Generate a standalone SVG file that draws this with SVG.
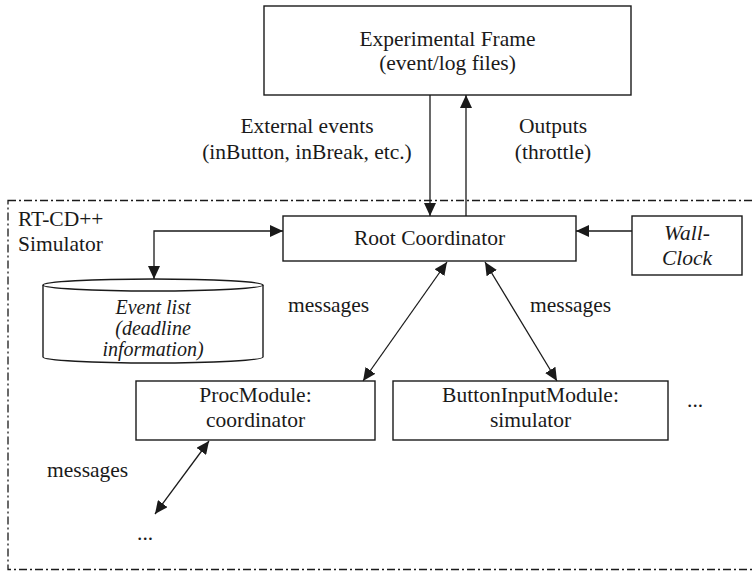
<svg xmlns="http://www.w3.org/2000/svg" width="752" height="575" viewBox="0 0 752 575" font-family="'Liberation Serif', 'DejaVu Serif', serif">
  <style>
    text { font-family: "Liberation Serif", "DejaVu Serif", serif; font-size: 21.5px; fill: #1a1a1a; }
    .c { text-anchor: middle; }
    .i { font-style: italic; }
    .s { font-size: 20px; }
    .box { fill: #fff; stroke: #1a1a1a; stroke-width: 1.4; }
    .ln { fill: none; stroke: #1a1a1a; stroke-width: 1.3; }
    .bound { fill: none; stroke: #1a1a1a; stroke-width: 1.3; stroke-dasharray: 8 3 2 3; }
  </style>
  <defs>
    <marker id="ah" markerUnits="userSpaceOnUse" markerWidth="14" markerHeight="12" refX="13" refY="6" orient="auto-start-reverse">
      <path d="M0,0 L13,6 L0,12 z" fill="#1a1a1a"/>
    </marker>
  </defs>

  <rect width="752" height="575" fill="#fff"/>

  <!-- simulator boundary -->
  <g id="simulator-boundary">
    <rect class="bound" x="8" y="200.5" width="745" height="369"/>
    <text x="18" y="226">RT-CD++</text>
    <text x="18" y="251">Simulator</text>
  </g>

  <g id="experimental-frame">
    <rect class="box" x="264" y="6" width="367" height="89"/>
    <text class="c" x="447.5" y="46">Experimental Frame</text>
    <text class="c" x="447.5" y="70">(event/log files)</text>
  </g>

  <g id="root-coordinator">
    <rect class="box" x="283" y="216" width="293" height="45"/>
    <text class="c" x="429.5" y="245">Root Coordinator</text>
  </g>

  <g id="wall-clock">
    <rect class="box" x="632" y="216" width="110" height="59"/>
    <text class="c i" x="687" y="240">Wall-</text>
    <text class="c i" x="687" y="265">Clock</text>
  </g>

  <g id="event-list">
    <path class="box" d="M43,285 L43,357 A110,6 0 0 0 263,357 L263,285"/>
    <ellipse class="box" cx="153" cy="285" rx="110" ry="6"/>
    <text class="c i s" x="153" y="314">Event list</text>
    <text class="c i s" x="153" y="335">(deadline</text>
    <text class="c i s" x="153" y="356">information)</text>
  </g>

  <g id="proc-module">
    <rect class="box" x="136" y="381" width="239" height="59"/>
    <text class="c" x="255.5" y="402">ProcModule:</text>
    <text class="c" x="255.5" y="427">coordinator</text>
  </g>

  <g id="button-input-module">
    <rect class="box" x="393" y="381" width="275" height="59"/>
    <text class="c" x="530.5" y="402">ButtonInputModule:</text>
    <text class="c" x="530.5" y="427">simulator</text>
  </g>

  <g id="connectors">
    <line class="ln" x1="430" y1="95" x2="430" y2="216" marker-end="url(#ah)"/>
    <line class="ln" x1="466" y1="216" x2="466" y2="95" marker-end="url(#ah)"/>
    <line class="ln" x1="632" y1="231" x2="576" y2="231" marker-end="url(#ah)"/>
    <polyline class="ln" points="283,231 154,231 154,279" marker-start="url(#ah)" marker-end="url(#ah)"/>
    <line class="ln" x1="447" y1="262" x2="363" y2="381" marker-start="url(#ah)" marker-end="url(#ah)"/>
    <line class="ln" x1="485" y1="262" x2="557" y2="381" marker-start="url(#ah)" marker-end="url(#ah)"/>
    <line class="ln" x1="209" y1="441" x2="155" y2="514" marker-start="url(#ah)" marker-end="url(#ah)"/>
  </g>

  <g id="labels">
    <text class="c" x="307" y="133">External events</text>
    <text class="c" x="307" y="159">(inButton, inBreak, etc.)</text>
    <text class="c" x="553" y="133">Outputs</text>
    <text class="c" x="553" y="159">(throttle)</text>
    <text x="288" y="312">messages</text>
    <text x="530" y="312">messages</text>
    <text x="47" y="477">messages</text>
    <text x="687" y="407">...</text>
    <text x="137" y="540">...</text>
  </g>
</svg>
